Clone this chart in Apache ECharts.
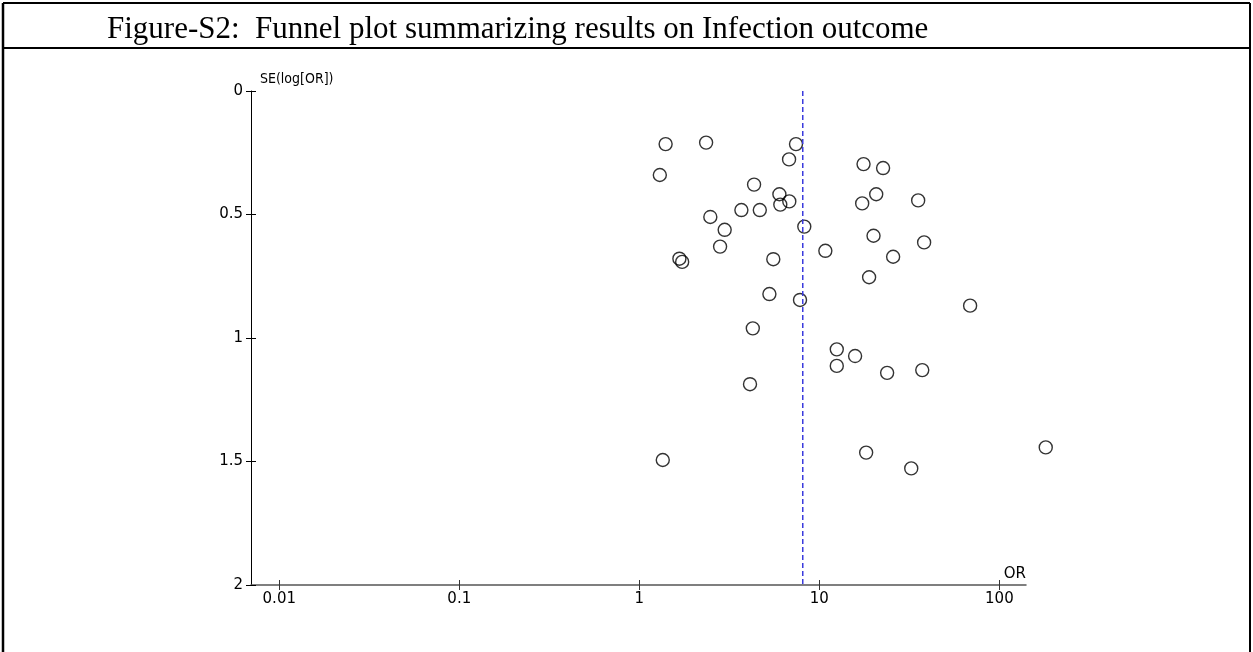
<!DOCTYPE html>
<html>
<head>
<meta charset="utf-8">
<script src="https://cdn.jsdelivr.net/npm/echarts@6/dist/echarts.min.js"></script>
<style>
html,body{margin:0;padding:0;background:#fff;}
#chart{width:1253px;height:652px;}
</style>
</head>
<body>
<div id="chart"></div>
<script>
// Odds ratios (x) and standard errors of log OR (y)
const oddsRatios = [1.40, 2.35, 7.42, 6.79, 1.30, 4.34, 6.00, 6.81, 6.07, 3.69,
  4.67, 2.48, 2.98, 8.25, 2.81, 10.8, 1.67, 1.73, 5.55, 5.28,
  7.81, 17.6, 22.6, 20.7, 17.3, 35.4, 20.0, 38.2, 25.7, 18.9,
  68.8, 4.27, 12.5, 15.8, 12.5, 23.8, 37.3, 4.12, 1.35, 18.2,
  32.4, 181];
const seLogOR = [0.215, 0.209, 0.215, 0.277, 0.340, 0.379, 0.418, 0.447, 0.460, 0.482,
  0.482, 0.510, 0.562, 0.549, 0.630, 0.647, 0.679, 0.692, 0.681, 0.822,
  0.846, 0.296, 0.312, 0.418, 0.455, 0.443, 0.586, 0.613, 0.671, 0.754,
  0.869, 0.961, 1.046, 1.073, 1.113, 1.141, 1.130, 1.187, 1.494, 1.464,
  1.528, 1.443];
const pooledOR = 8.09;
const xTickValues = [0.01, 0.1, 1, 10, 100];
const xTickLabels = ['0.01', '0.1', '1', '10', '100'];
const yTickLabels = ['0', '0.5', '1', '1.5', '2'];
const titleText = 'Figure-S2:  Funnel plot summarizing results on Infection outcome';

const lg = v => Math.log10(v);
const points = oddsRatios.map((o, i) => [lg(o), seLogOR[i]]);
const xMin = -2.157, xMax = 2.148;
const xTickPos = xTickValues.map(lg);
const labelFont = { fontFamily: 'DejaVu Sans', fontSize: 15, color: '#000' };

const chart = echarts.init(document.getElementById('chart'), null, { renderer: 'canvas' });

function xAxisBase(inside, showLine, showLabel) {
  return {
    type: 'value', gridIndex: 0, position: 'bottom', min: xMin, max: xMax,
    splitLine: { show: false },
    axisLine: { show: showLine, onZero: false, lineStyle: { color: '#555', width: 1.5 } },
    axisTick: { show: true, inside: inside, length: 5, customValues: xTickPos,
      lineStyle: { color: '#333', width: 1 } },
    axisLabel: { show: showLabel, customValues: xTickPos, margin: 7,
      formatter: v => { const i = xTickPos.findIndex(t => Math.abs(t - v) < 1e-6); return i >= 0 ? xTickLabels[i] : ''; },
      ...labelFont }
  };
}
function yAxisBase(inside, showLine, showLabel) {
  return {
    type: 'value', gridIndex: 0, position: 'left', min: 0, max: 2, interval: 0.5, inverse: true,
    splitLine: { show: false },
    axisLine: { show: showLine, onZero: false, lineStyle: { color: '#000', width: 1 } },
    axisTick: { show: true, inside: inside, length: 5, lineStyle: { color: '#000', width: 1 } },
    axisLabel: { show: showLabel, margin: 8,
      formatter: v => yTickLabels[Math.round(v / 0.5)] ?? '', ...labelFont }
  };
}

const xa0 = xAxisBase(false, true, true);
xa0.name = 'OR';
xa0.nameLocation = 'end';
xa0.nameGap = 0;
xa0.nameTextStyle = { fontFamily: 'DejaVu Sans', fontSize: 15, color: '#000', align: 'right', verticalAlign: 'bottom', padding: [0, 0, 3, 0] };
const ya0 = yAxisBase(false, true, true);
ya0.name = 'SE(log[OR])';
ya0.nameLocation = 'start';
ya0.nameGap = 5;
ya0.nameTextStyle = { fontFamily: 'DejaVu Sans Condensed', fontSize: 14, color: '#000', align: 'left', verticalAlign: 'bottom', padding: [0, 0, 0, 9] };

const option = {
  backgroundColor: '#fff',
  animation: false,
  grid: { left: 251, right: 227, top: 91, bottom: 67, containLabel: false },
  xAxis: [xa0, xAxisBase(true, false, false)],
  yAxis: [ya0, yAxisBase(true, false, false)],
  graphic: [
    { type: 'line', shape: { x1: 3, y1: 3, x2: 1250, y2: 3 }, style: { stroke: '#000', lineWidth: 2 } },
    { type: 'line', shape: { x1: 3, y1: 3, x2: 3, y2: 652 }, style: { stroke: '#000', lineWidth: 2.5 } },
    { type: 'line', shape: { x1: 1250, y1: 3, x2: 1250, y2: 652 }, style: { stroke: '#000', lineWidth: 2 } },
    { type: 'line', shape: { x1: 3, y1: 48, x2: 1250, y2: 48 }, style: { stroke: '#000', lineWidth: 2 } },
    { type: 'text', left: 107, top: 14, style: { text: titleText, font: '31px "Liberation Serif"', fill: '#000' } }
  ],
  series: [
    {
      type: 'line', xAxisIndex: 0, yAxisIndex: 0,
      data: [[lg(pooledOR), 0], [lg(pooledOR), 2]],
      symbol: 'none', silent: true,
      lineStyle: { color: '#3b3bdd', width: 1.5, type: [5, 3] }
    },
    {
      type: 'scatter', xAxisIndex: 0, yAxisIndex: 0, clip: false,
      data: points, symbol: 'circle', symbolSize: 13,
      itemStyle: { color: 'rgba(0,0,0,0)', borderColor: '#000', borderWidth: 1.4 }
    }
  ]
};
chart.setOption(option);
</script>
</body>
</html>
